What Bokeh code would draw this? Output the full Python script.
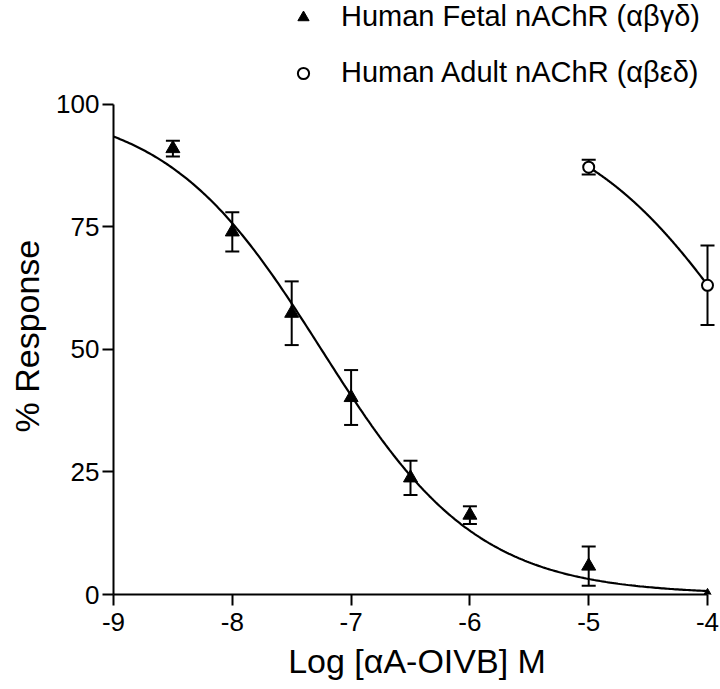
import numpy as np
from bokeh.plotting import figure
from bokeh.models import (Range1d, FixedTicker, Whisker, ColumnDataSource, TeeHead,
                          Legend, LegendItem, Title)
from bokeh.embed import file_html
from bokeh.resources import INLINE

# ---- data ----
log_conc_fetal = [-8.5, -8.0, -7.5, -7.0, -6.5, -6.0, -5.0, -4.0]
resp_fetal = [91.0, 74.0, 57.4, 40.2, 23.8, 16.2, 5.8, -0.4]
sem_fetal = [1.6, 4.0, 6.5, 5.6, 3.5, 1.8, 4.0, 0.0]

log_conc_adult = [-5.0, -4.0]
resp_adult = [87.2, 63.1]
sem_adult = [1.5, 8.1]

# fitted dose-response parameters (bottom, top, logIC50, Hill slope)
fetal_fit = dict(bottom=0.0, top=100.0, log_ic50=-7.25, hill=0.66, x_from=-9.0, x_to=-4.0)
adult_fit = dict(bottom=0.0, top=100.0, log_ic50=-3.61, hill=0.60, x_from=-5.0, x_to=-4.0)

x_ticks = [-9, -8, -7, -6, -5, -4]
x_tick_labels = ["-9", "-8", "-7", "-6", "-5", "-4"]
y_ticks = [0, 25, 50, 75, 100]
y_tick_labels = ["0", "25", "50", "75", "100"]

series_labels = ["Human Fetal nAChR (αβγδ)", "Human Adult nAChR (αβεδ)"]
x_title = "Log [αA-OIVB] M"
y_title = "% Response"

FONT = "Liberation Sans"
INK = "#000000"


def fit_curve(f):
    xs = np.linspace(f["x_from"], f["x_to"], 300)
    ys = f["bottom"] + (f["top"] - f["bottom"]) / (1 + 10 ** ((xs - f["log_ic50"]) * f["hill"]))
    return xs, ys


p = figure(width=720, height=689,
           x_range=Range1d(-9, -3.8906), y_range=Range1d(0, 121.22),
           output_backend="svg", toolbar_location=None,
           min_border_left=113, min_border_right=0, min_border_top=0, min_border_bottom=95)
p.outline_line_color = None
p.xgrid.visible = False
p.ygrid.visible = False
p.background_fill_color = "white"
p.border_fill_color = "white"

# curves
fx, fy = fit_curve(fetal_fit)
p.line(fx, fy, line_color=INK, line_width=2.2)
ax, ay = fit_curve(adult_fit)
p.line(ax, ay, line_color=INK, line_width=2.2)

# error bars
def whisker_for(xs, ys, es):
    keep = [i for i in range(len(xs)) if es[i] > 0]
    src = ColumnDataSource(dict(
        x=[xs[i] for i in keep],
        upper=[ys[i] + es[i] for i in keep],
        lower=[ys[i] - es[i] for i in keep]))
    w = Whisker(base="x", upper="upper", lower="lower", source=src, dimension="height",
                line_color=INK, line_width=2,
                upper_head=TeeHead(size=14, line_width=2, line_color=INK),
                lower_head=TeeHead(size=14, line_width=2, line_color=INK),
                level="underlay")
    p.add_layout(w)

whisker_for(log_conc_fetal, resp_fetal, sem_fetal)
whisker_for(log_conc_adult, resp_adult, sem_adult)

r_fetal = p.scatter(log_conc_fetal, resp_fetal, marker="triangle", size=14,
                    fill_color=INK, line_color=INK, line_width=1)
r_adult = p.scatter(log_conc_adult, resp_adult, marker="circle", size=11,
                    fill_color="white", line_color=INK, line_width=2)

# axes
xa = p.xaxis[0]
xa.ticker = FixedTicker(ticks=x_ticks)
xa.major_label_overrides = {t: l for t, l in zip(x_ticks, x_tick_labels)}
xa.bounds = (x_ticks[0], x_ticks[-1])
xa.axis_label = x_title

ya = p.yaxis[0]
ya.ticker = FixedTicker(ticks=y_ticks)
ya.major_label_overrides = {t: l for t, l in zip(y_ticks, y_tick_labels)}
ya.bounds = (y_ticks[0], y_ticks[-1])

for a in (xa, ya):
    a.axis_line_width = 2
    a.axis_line_color = INK
    a.major_tick_line_width = 2
    a.major_tick_line_color = INK
    a.major_tick_out = 11
    a.major_tick_in = 0
    a.minor_tick_out = 0
    a.minor_tick_in = 0
    a.major_label_text_font = FONT
    a.major_label_text_font_size = "26px"
    a.major_label_text_color = INK
    a.axis_label_text_font = FONT
    a.axis_label_text_font_style = "normal"
    a.axis_label_text_color = INK

xa.axis_label_text_font_size = "34px"
xa.major_label_standoff = 7
xa.axis_label_standoff = 8
ya.major_label_standoff = 3

# y-axis title, placed along the 0-100 part of the axis
y_label = Title(text=y_title, align="left", offset=162, vertical_align="top",
                standoff=12, text_font=FONT, text_font_size="34px",
                text_font_style="normal", text_color=INK)
p.add_layout(y_label, "left")

legend = Legend(items=[LegendItem(label=series_labels[0], renderers=[r_fetal]),
                       LegendItem(label=series_labels[1], renderers=[r_adult])],
                location=(176, 505), orientation="vertical",
                label_text_font=FONT, label_text_font_size="29px", label_text_color=INK,
                label_standoff=24, glyph_width=28, glyph_height=32, label_height=32,
                spacing=23, padding=0, margin=0,
                border_line_color=None, background_fill_alpha=0)
p.add_layout(legend)

open("out.html", "w").write(file_html(p, INLINE))
